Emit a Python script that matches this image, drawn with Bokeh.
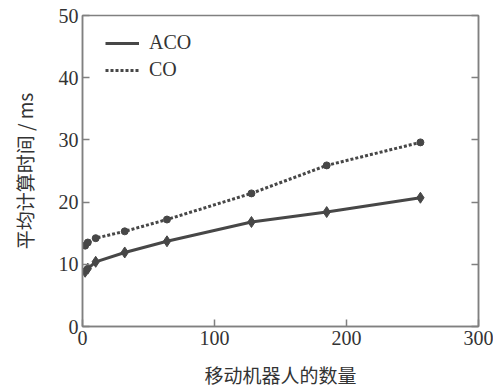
from bokeh.plotting import figure
from bokeh.models import LinearAxis, Range1d, Legend, LegendItem
from bokeh.embed import file_html
from bokeh.resources import INLINE

robots = [2, 4, 10, 32, 64, 128, 185, 256]
aco_ms = [8.8, 9.3, 10.4, 11.9, 13.7, 16.8, 18.4, 20.7]
co_ms = [13.0, 13.5, 14.2, 15.3, 17.2, 21.4, 25.9, 29.6]
x_ticks = [0, 100, 200, 300]
y_ticks = [0, 10, 20, 30, 40, 50]

SERIF = "Liberation Serif"
CJK = "Noto Sans CJK SC"
LINE = "#474747"
AX = "#808080"

p = figure(frame_width=396, frame_height=311, output_backend="svg",
           toolbar_location=None, x_range=Range1d(0, 300), y_range=Range1d(0, 50),
           min_border_left=82, min_border_top=15, min_border_right=15, min_border_bottom=61)
p.xgrid.visible = False
p.ygrid.visible = False
p.outline_line_color = AX
p.outline_line_width = 1.5
p.background_fill_color = "white"
p.border_fill_color = "white"

p.axis.axis_line_color = AX
p.axis.axis_line_width = 1.5
p.axis.major_tick_line_color = AX
p.axis.major_tick_line_width = 1.5
p.axis.major_tick_in = 7
p.axis.major_tick_out = 0
p.axis.minor_tick_line_color = None
p.axis.major_label_text_font = SERIF
p.axis.major_label_text_font_size = "20px"
p.axis.major_label_text_color = "#333333"
p.axis.axis_label_text_font = CJK
p.axis.axis_label_text_font_size = "19px"
p.axis.axis_label_text_font_style = "normal"
p.axis.axis_label_text_color = "#333333"

p.xaxis.ticker = x_ticks
p.yaxis.ticker = y_ticks
p.xaxis.axis_label = "移动机器人的数量"
p.yaxis.axis_label = "平均计算时间 / ms"
p.xaxis.major_label_standoff = 4
p.yaxis.major_label_standoff = 4
p.xaxis.axis_label_standoff = 13
p.yaxis.axis_label_standoff = 18

right = LinearAxis(ticker=y_ticks, axis_line_color=AX, axis_line_width=1.5,
                   major_tick_line_color=AX, major_tick_line_width=1.5,
                   major_tick_in=7, major_tick_out=0, minor_tick_line_color=None,
                   major_label_overrides={t: "" for t in y_ticks}, major_label_standoff=0)
p.add_layout(right, "right")

r1 = p.line(robots, aco_ms, line_color=LINE, line_width=3)
m1 = p.scatter(robots, aco_ms, marker="diamond", size=11, fill_color=LINE, line_color=LINE)
r2 = p.line(robots, co_ms, line_color=LINE, line_width=3, line_dash="3 2")
m2 = p.scatter(robots, co_ms, marker="circle", size=7, fill_color=LINE, line_color=LINE)

leg = Legend(items=[LegendItem(label="ACO", renderers=[r1]),
                    LegendItem(label="CO", renderers=[r2])],
             location=(23, 245), border_line_color=None, background_fill_alpha=0,
             label_text_font=SERIF, label_text_font_size="20px", label_text_color="#333333",
             glyph_width=34, glyph_height=22, label_standoff=10, spacing=4,
             padding=0, margin=0)
p.add_layout(leg, "center")

open("out.html", "w").write(file_html(p, INLINE))
